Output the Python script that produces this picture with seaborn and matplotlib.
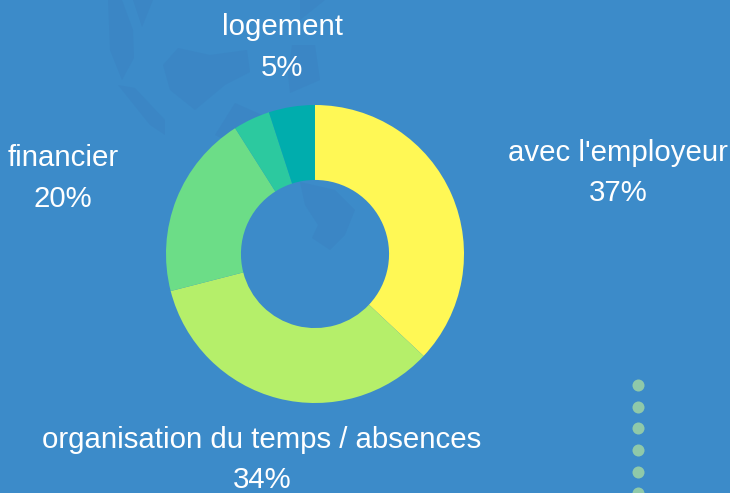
import matplotlib
matplotlib.use("Agg")
import matplotlib.pyplot as plt
import seaborn as sns

categories = ["avec l'employeur", "organisation du temps / absences", "financier", "", "logement"]
values = [37, 34, 20, 4, 5]
colors = ["#FFF855", "#B5EF6A", "#6CDD87", "#2CC99F", "#00ADAD"]

# slice labels: (text, percent, x px, y px)
labels = [
    ("avec l'employeur", "37%", 618, 151, 191),
    ("organisation du temps / absences", "34%", 262, 438, 478),
    ("financier", "20%", 63, 156, 197),
    ("logement", "5%", 282, 25, 66),
]

# faint map shapes behind the chart, traced by eye
map_shapes = [
    [(108, 0), (122, 0), (133, 30), (134, 58), (122, 80), (110, 50)],
    [(133, 0), (153, 0), (142, 27)],
    [(163, 65), (178, 48), (210, 55), (247, 50), (250, 72), (225, 85), (195, 110), (170, 90)],
    [(118, 85), (135, 88), (165, 120), (165, 135), (150, 125)],
    [(215, 135), (235, 103), (262, 115), (250, 130), (240, 125), (225, 140)],
    [(292, 45), (315, 45), (320, 80), (290, 93), (288, 75)],
    [(300, 182), (335, 190), (355, 210), (345, 235), (330, 250), (312, 238), (318, 225), (305, 205)],
    [(300, 0), (325, 0), (300, 20)],
]

dot_y = [385, 407, 428, 450, 472, 493]

sns.set_theme(style="white")
plt.rcParams["font.family"] = ["Liberation Sans", "DejaVu Sans"]

fig = plt.figure(figsize=(7.3, 4.93), dpi=100, facecolor="#3C8BC9")

bg = fig.add_axes([0, 0, 1, 1])
bg.set_xlim(0, 730)
bg.set_ylim(493, 0)
bg.axis("off")
for shape in map_shapes:
    bg.fill(*zip(*shape), color="#3B86C5", lw=0)
sns.scatterplot(x=[638] * len(dot_y), y=dot_y, color="#8FC9A9", s=75, linewidth=0, ax=bg, clip_on=True)

for name, pct, x, y1, y2 in labels:
    bg.text(x, y1 + 2, name, color="white", fontsize=21.2, ha="center", va="center")
    bg.text(x, y2 + 2, pct, color="white", fontsize=21.2, ha="center", va="center")

ax = fig.add_axes([165 / 730, (493 - 404) / 493, 300 / 730, 300 / 493])
ax.pie(values, colors=colors, startangle=90, counterclock=False, radius=1,
       wedgeprops={"width": 0.503, "linewidth": 0})
ax.set_xlim(-150 / 149, 150 / 149)
ax.set_ylim(-150 / 149, 150 / 149)
ax.patch.set_alpha(0)

fig.savefig("out.png", dpi=100, facecolor=fig.get_facecolor())
